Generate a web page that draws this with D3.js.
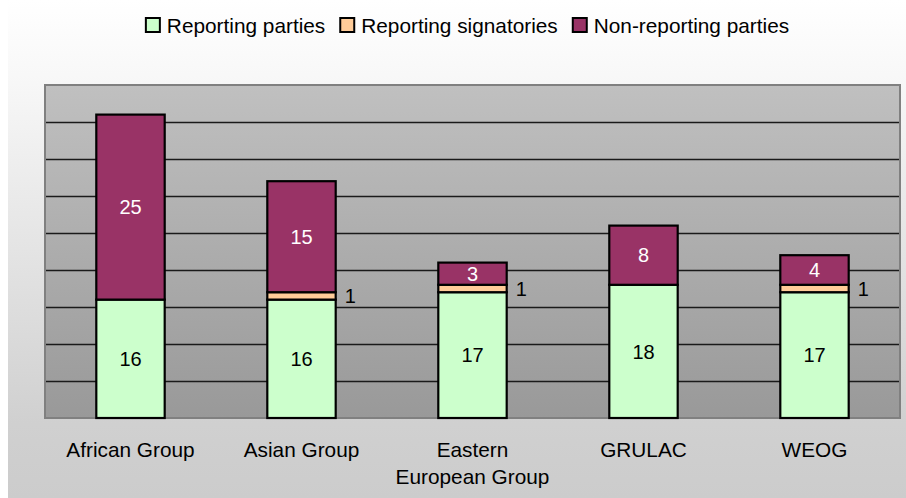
<!DOCTYPE html>
<html>
<head>
<meta charset="utf-8">
<title>Reporting by regional group</title>
<script src="https://d3js.org/d3.v7.min.js"></script>
<style>
  body { margin: 0; background: #ffffff; }
  svg { display: block; font-family: "Liberation Sans", Arial, sans-serif; }
</style>
</head>
<body>
<div id="chart"></div>
<script>
// data
var groups = ["African Group", "Asian Group", "Eastern European Group", "GRULAC", "WEOG"];
var groupLines = [["African Group"], ["Asian Group"], ["Eastern", "European Group"], ["GRULAC"], ["WEOG"]];
var series = ["Reporting parties", "Reporting signatories", "Non-reporting parties"];
var reportingParties = [16, 16, 17, 18, 17];
var reportingSignatories = [0, 1, 1, 0, 1];
var nonReportingParties = [25, 15, 3, 8, 4];
var yTicks = [5, 10, 15, 20, 25, 30, 35, 40, 45];

var colors = ["#ccffcc", "#ffcc99", "#993366"];
var W = 906, H = 498;
var plot = {left: 45, right: 900, top: 85, bottom: 418};

var svg = d3.select("#chart").append("svg")
    .attr("width", W).attr("height", H);

var defs = svg.append("defs");
var bg = defs.append("linearGradient").attr("id", "bg")
    .attr("x1", 0).attr("y1", 0).attr("x2", 0).attr("y2", 1);
bg.append("stop").attr("offset", "0").attr("stop-color", "#ffffff");
bg.append("stop").attr("offset", "0.15").attr("stop-color", "#f8f8f8");
bg.append("stop").attr("offset", "0.85").attr("stop-color", "#d0d0d0");
bg.append("stop").attr("offset", "1").attr("stop-color", "#cccccc");
var pg = defs.append("linearGradient").attr("id", "pg")
    .attr("x1", 0).attr("y1", 0).attr("x2", 0).attr("y2", 1);
pg.append("stop").attr("offset", "0").attr("stop-color", "#c0c0c0");
pg.append("stop").attr("offset", "1").attr("stop-color", "#999999");

// outer background
svg.append("rect").attr("x", 8).attr("y", 0)
    .attr("width", W - 8).attr("height", H).attr("fill", "url(#bg)");

// scales
var x = d3.scaleBand().domain(groups).range([plot.left, plot.right]).padding(0);
var y = d3.scaleLinear().domain([0, 45]).range([plot.bottom, plot.top]);
var barW = x.bandwidth() * 0.4;

// plot area
svg.append("rect")
    .attr("x", plot.left).attr("y", plot.top)
    .attr("width", plot.right - plot.left).attr("height", plot.bottom - plot.top)
    .attr("fill", "url(#pg)");

// gridlines
var grid = svg.append("g")
    .attr("transform", "translate(" + plot.left + ",0)")
    .call(d3.axisLeft(y).tickValues(yTicks.slice(0, -1)).tickSize(-(plot.right - plot.left)).tickFormat(""));
grid.select(".domain").remove();
grid.selectAll(".tick line").attr("stroke", "#1a1a1a").attr("stroke-width", 1.3);

svg.append("rect")
    .attr("x", plot.left).attr("y", plot.top)
    .attr("width", plot.right - plot.left).attr("height", plot.bottom - plot.top)
    .attr("fill", "none").attr("stroke", "#808080").attr("stroke-width", 2);

// stacked bars
var rows = groups.map(function(g, i) {
  return {group: g, vals: [reportingParties[i], reportingSignatories[i], nonReportingParties[i]]};
});
var segs = [];
rows.forEach(function(r) {
  var base = 0;
  r.vals.forEach(function(v, k) {
    if (v > 0) segs.push({group: r.group, k: k, v: v, y0: base, y1: base + v});
    base += v;
  });
});

var bars = svg.append("g");
bars.selectAll("rect").data(segs).join("rect")
    .attr("x", function(d) { return x(d.group) + (x.bandwidth() - barW) / 2; })
    .attr("y", function(d) { return y(d.y1); })
    .attr("width", barW)
    .attr("height", function(d) { return y(d.y0) - y(d.y1); })
    .attr("fill", function(d) { return colors[d.k]; })
    .attr("stroke", "#000").attr("stroke-width", 2.2);

// value labels
bars.selectAll("text").data(segs).join("text")
    .attr("x", function(d) {
      var cx = x(d.group) + x.bandwidth() / 2;
      return d.k === 1 ? cx + barW / 2 + 9 : cx;
    })
    .attr("y", function(d) { return (y(d.y0) + y(d.y1)) / 2; })
    .attr("dy", "0.36em")
    .attr("text-anchor", function(d) { return d.k === 1 ? "start" : "middle"; })
    .attr("font-size", "20px")
    .attr("fill", function(d) { return d.k === 2 ? "#ffffff" : "#000000"; })
    .text(function(d) { return d.v; });

// category labels
var cats = svg.append("g");
groups.forEach(function(g, i) {
  var t = cats.append("text")
      .attr("x", x(g) + x.bandwidth() / 2).attr("y", 457)
      .attr("text-anchor", "middle").attr("font-size", "20.8px").attr("fill", "#000");
  groupLines[i].forEach(function(line, j) {
    t.append("tspan").attr("x", x(g) + x.bandwidth() / 2).attr("dy", j === 0 ? 0 : 27).text(line);
  });
});

// legend
var legend = svg.append("g");
var items = legend.selectAll("g").data(series).join("g");
items.append("rect").attr("x", 0).attr("y", -7).attr("width", 14).attr("height", 14)
    .attr("fill", function(d, i) { return colors[i]; })
    .attr("stroke", "#000").attr("stroke-width", 2);
items.append("text").attr("x", 21).attr("y", 0).attr("dy", "0.36em")
    .attr("font-size", "20.8px").attr("fill", "#000").text(function(d) { return d; });
var pos = 0;
items.each(function() {
  d3.select(this).attr("transform", "translate(" + pos + ",25)");
  pos += 21 + d3.select(this).select("text").node().getComputedTextLength() + 15;
});
var total = pos - 15;
legend.attr("transform", "translate(" + (467.5 - total / 2) + ",0)");
</script>
</body>
</html>
